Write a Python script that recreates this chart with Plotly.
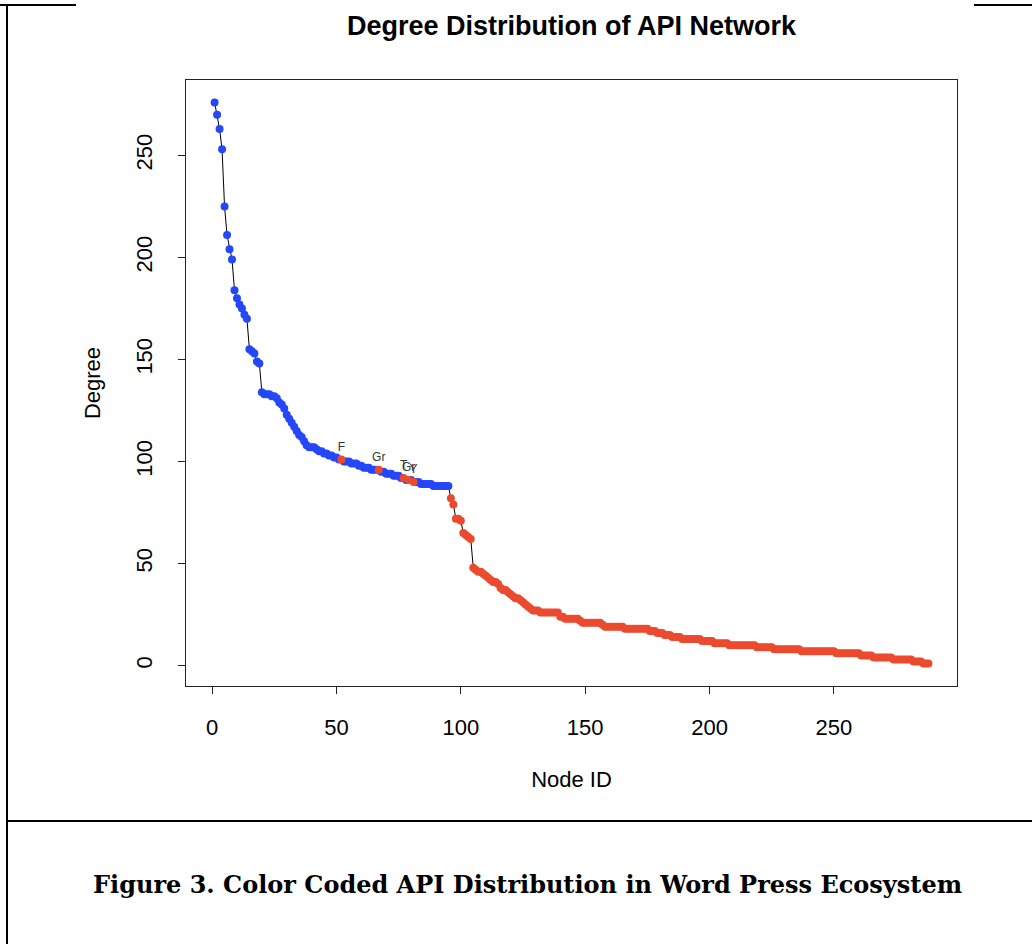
import plotly.graph_objects as go

# ---------------- data ----------------
# degree of each API node, sorted descending (node ids 1..288)
degree_blue = [
    276, 270, 263, 253, 225, 211, 204, 199, 184, 180,
    177, 175, 172, 170, 155, 154, 153, 149, 148, 134,
    133, 133, 133, 132, 132, 131, 129, 128, 126, 123,
    121, 119, 117, 115, 113, 112, 110, 108, 107, 107,
    107, 106, 105, 105, 104, 104, 103, 103, 102, 102,
    101, 101, 100, 100, 100, 99, 99, 99, 98, 98,
    97, 97, 97, 96, 96, 96, 96, 95, 95, 94,
    94, 94, 93, 93, 93, 92, 92, 91, 91, 91,
    90, 90, 90, 89, 89, 89, 89, 89, 88, 88,
    88, 88, 88, 88, 88,
]
degree_red = [
    82, 79, 72, 72, 71, 65, 64, 63, 62, 48,
    47, 46, 46, 45, 44, 43, 42, 41, 41, 40,
    38, 37, 37, 36, 35, 34, 33, 33, 32, 31,
    30, 29, 28, 27, 27, 27,
    26, 26, 26, 26, 26, 26, 26, 26,
    24, 24, 23, 23, 23, 23, 23, 23,
    22, 21, 21, 21, 21, 21, 21, 21, 21,
    20, 19, 19, 19, 19, 19, 19, 19, 19,
    18, 18, 18, 18, 18, 18, 18, 18, 18, 18,
    17, 17, 17, 16, 16, 16,
    15, 15, 15, 14, 14, 14, 14,
    13, 13, 13, 13, 13, 13, 13, 13,
    12, 12, 12, 12, 12,
    11, 11, 11, 11, 11, 11,
    10, 10, 10, 10, 10, 10, 10, 10, 10, 10, 10,
    9, 9, 9, 9, 9, 9, 9,
    8, 8, 8, 8, 8, 8, 8, 8, 8, 8, 8,
    7, 7, 7, 7, 7, 7, 7, 7, 7, 7, 7, 7, 7, 7,
    6, 6, 6, 6, 6, 6, 6, 6, 6, 6,
    5, 5, 5, 5, 5,
    4, 4, 4, 4, 4, 4, 4, 4,
    3, 3, 3, 3, 3, 3, 3, 3,
    2, 2, 2, 2,
    1, 1, 1,
]
degree = degree_blue + degree_red
node_id = list(range(1, len(degree) + 1))

# highlighted (labelled) APIs inside the blue group
labelled_ids = [52, 67, 77, 79, 81]
labelled_text = ["F", "Gr", "T", "Gr", "Y"]

x_ticks = [0, 50, 100, 150, 200, 250]
y_ticks = [0, 50, 100, 150, 200, 250]

BLUE = "#2447F8"
RED = "#EC4A2E"

n_blue = len(degree_blue)
blue_x = [i for i in node_id[:n_blue] if i not in labelled_ids]
blue_y = [degree[i - 1] for i in blue_x]
red_x = node_id[n_blue:]
red_y = degree[n_blue:]
lab_y = [degree[i - 1] for i in labelled_ids]

# ---------------- layout geometry ----------------
W, H = 1032, 944
L, R, T, B = 186, 957, 80, 686


def px(xp):
    return (xp - L) / (R - L)


def py(yp):
    return (B - yp) / (B - T)


FONT = "Liberation Sans, Arial, Helvetica, sans-serif"

fig = go.Figure()
fig.add_trace(go.Scatter(x=node_id, y=degree, mode="lines",
                         line=dict(color="black", width=1), hoverinfo="skip",
                         showlegend=False))
fig.add_trace(go.Scatter(x=blue_x, y=blue_y, mode="markers",
                         marker=dict(color=BLUE, size=8, line=dict(width=0)),
                         showlegend=False))
fig.add_trace(go.Scatter(x=red_x, y=red_y, mode="markers",
                         marker=dict(color=RED, size=8, line=dict(width=0)),
                         showlegend=False))
fig.add_trace(go.Scatter(x=labelled_ids, y=lab_y, mode="markers+text",
                         text=labelled_text, textposition="top center",
                         textfont=dict(size=12, color="#333333", family=FONT),
                         marker=dict(color=RED, size=8, line=dict(width=0)),
                         showlegend=False))

axis_common = dict(
    showgrid=False, zeroline=False, showline=True, mirror=True,
    linecolor="#222222", linewidth=1, ticks="outside", ticklen=7,
    tickwidth=1, tickcolor="#222222",
    tickfont=dict(size=22, color="black", family=FONT),
)

fig.update_layout(
    width=W, height=H,
    margin=dict(l=L, r=W - R, t=T, b=H - B),
    paper_bgcolor="white", plot_bgcolor="white",
    title=dict(text="<b>Degree Distribution of API Network</b>",
               x=0.5, xref="paper", xanchor="center",
               y=1 - 26 / H, yref="container", yanchor="middle",
               font=dict(size=27, color="black", family=FONT)),
    xaxis=dict(range=[-10.5, 299.5], tickvals=x_ticks,
               ticklabelstandoff=15,
               title=dict(text="Node ID", standoff=32,
                          font=dict(size=22, color="black", family=FONT)),
               **axis_common),
    yaxis=dict(range=[-10, 287], tickvals=y_ticks, tickangle=-90,
               ticklabelstandoff=17,
               title=dict(text="Degree", standoff=25,
                          font=dict(size=22, color="black", family=FONT)),
               **axis_common),
)

# figure frame lines
line_style = dict(color="black", width=2)
fig.add_shape(type="line", xref="paper", yref="paper",
              x0=px(0), x1=px(76), y0=py(5), y1=py(5), line=line_style)
fig.add_shape(type="line", xref="paper", yref="paper",
              x0=px(974), x1=px(1032), y0=py(5), y1=py(5), line=line_style)
fig.add_shape(type="line", xref="paper", yref="paper",
              x0=px(7), x1=px(7), y0=py(5), y1=py(944), line=line_style)
fig.add_shape(type="line", xref="paper", yref="paper",
              x0=px(7), x1=px(1032), y0=py(821), y1=py(821), line=line_style)

fig.add_annotation(
    text="<b>Figure 3. Color Coded API Distribution in Word Press Ecosystem</b>",
    xref="paper", yref="paper", x=px(527), y=py(884),
    xanchor="center", yanchor="middle", showarrow=False,
    font=dict(size=24, color="black", family="DejaVu Serif, Georgia, serif"))

fig.write_html(
    "out.html",
    config={"displayModeBar": False},
    post_script="document.body.style.margin='0';"
                "document.body.style.overflow='hidden';",
)
